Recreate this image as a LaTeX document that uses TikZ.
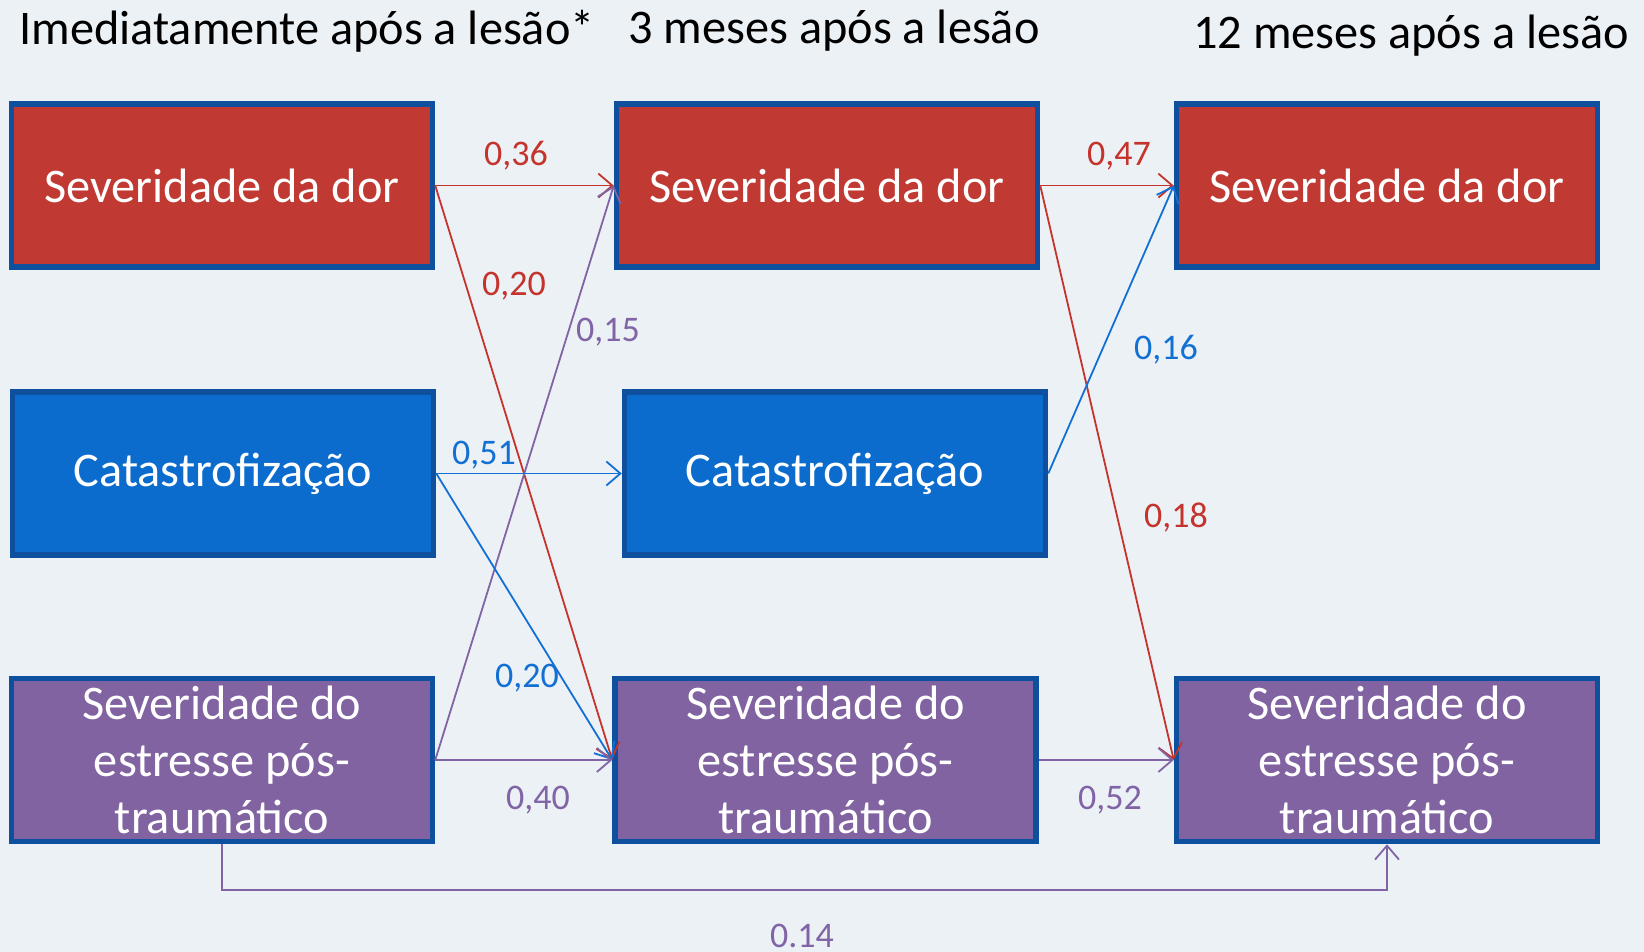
\documentclass[tikz,border=0pt]{standalone}
\usepackage{fontspec}
\setmainfont{Carlito}
\usetikzlibrary{arrows.meta}
\definecolor{bgc}{RGB}{236,241,246}
\definecolor{redf}{RGB}{192,57,50}
\definecolor{bluef}{RGB}{11,108,206}
\definecolor{purf}{RGB}{128,99,160}
\definecolor{bord}{RGB}{14,80,158}
\definecolor{redl}{RGB}{196,52,44}
\definecolor{bluel}{RGB}{18,112,212}
\definecolor{purl}{RGB}{128,100,165}
\tikzset{
  box/.style={draw=bord, line width=5.5pt, minimum width=421pt, minimum height=163pt,
    text=white, align=center, font=\fontsize{48.3}{57}\selectfont, inner sep=0pt},
  redbox/.style={box, fill=redf},
  bluebox/.style={box, fill=bluef},
  purbox/.style={box, fill=purf},
  conn/.style={line width=1.8pt, -{Straight Barb[length=14pt,width=24pt,line width=1.8pt]}},
  rc/.style={conn, draw=redl},
  bc/.style={conn, draw=bluel},
  pc/.style={conn, draw=purl},
  lab/.style={font=\fontsize{36}{42}\selectfont, inner sep=0pt},
  title/.style={font=\fontsize{48.3}{57}\selectfont, inner sep=0pt, text=black}
}
\begin{document}
\begin{tikzpicture}[x=1pt,y=-1pt]
\useasboundingbox (0,0) rectangle (1644,952);
\fill[bgc] (0,0) rectangle (1644,952);

\node[title] (t1) at (307,31) {Imediatamente após a lesão*};
\node[title] (t2) at (834,31) {3 meses após a lesão};
\node[title] (t3) at (1411,36) {12 meses após a lesão};

\node[redbox] (L1) at (222,185.6) {Severidade da dor};
\node[redbox] (M1) at (827,185.6) {Severidade da dor};
\node[redbox] (R1) at (1387,185.6) {Severidade da dor};
\node[bluebox] (L2) at (223,473.5) {Catastrofização};
\node[bluebox] (M2) at (835,473.5) {Catastrofização};
\node[purbox] (L3) at (222,760) {Severidade do\\estresse pós-\\traumático};
\node[purbox] (M3) at (825.5,760) {Severidade do\\estresse pós-\\traumático};
\node[purbox] (R3) at (1387,760) {Severidade do\\estresse pós-\\traumático};

\draw[rc] (L1.east) -- (M1.west);
\draw[rc] (L1.east) -- (M3.west);
\draw[pc] (L3.east) -- (M1.west);
\draw[bc] (L2.east) -- (M2.west);
\draw[bc] (L2.east) -- (M3.west);
\draw[pc] (L3.east) -- (M3.west);
\draw[rc] (M1.east) -- (R1.west);
\draw[rc] (M1.east) -- (R3.west);
\draw[bc] (M2.east) -- (R1.west);
\draw[pc] (M3.east) -- (R3.west);
\coordinate (bot) at (0,890);
\draw[pc] (L3.south) -- (L3.south |- bot) -| (R3.south);

\node[lab, text=redl] (a1) at (516,156) {0,36};
\node[lab, text=redl] (a2) at (514,286) {0,20};
\node[lab, text=purl] (a3) at (608,332) {0,15};
\node[lab, text=bluel] (a4) at (484,455) {0,51};
\node[lab, text=bluel] (a5) at (527,678) {0,20};
\node[lab, text=purl] (a6) at (538,800) {0,40};
\node[lab, text=redl] (a7) at (1119,156) {0,47};
\node[lab, text=bluel] (a8) at (1166,350) {0,16};
\node[lab, text=redl] (a9) at (1176,518) {0,18};
\node[lab, text=purl] (a10) at (1110,800) {0,52};
\node[lab, text=purl] (a11) at (802,936) {0.14};
\end{tikzpicture}
\end{document}
